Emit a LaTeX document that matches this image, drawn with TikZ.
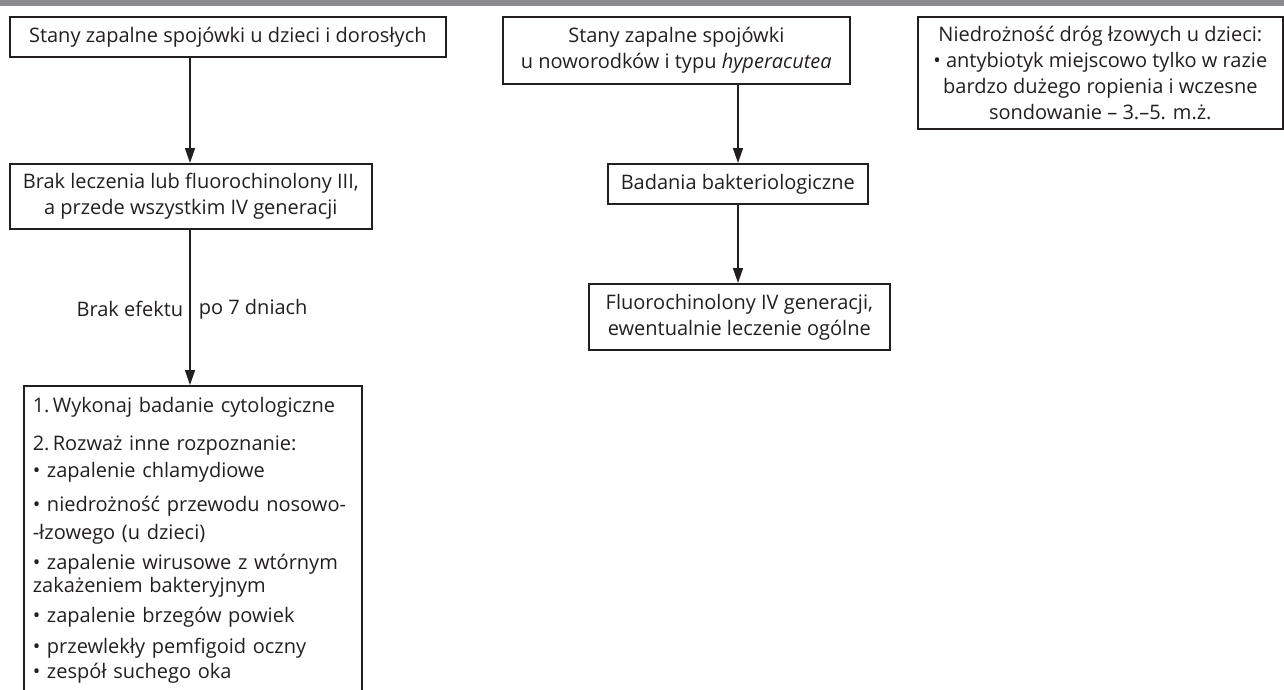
\documentclass[tikz,border=0pt]{standalone}
\usepackage{fontspec}
\setmainfont{Open Sans}
\usepackage{xcolor}
\usetikzlibrary{arrows.meta}

\definecolor{bandgray}{HTML}{8B8B8D}
\definecolor{inkgray}{HTML}{231F20}

\tikzset{
  box/.style={draw=inkgray, line width=1.6pt, inner sep=0pt, anchor=north west,
    align=center, text=inkgray, font=\fontsize{20}{26}\selectfont},
  arr/.style={draw=inkgray, line width=1.6pt, -{Triangle[length=15pt,width=10pt]}},
  lbl/.style={text=inkgray, font=\fontsize{20}{26}\selectfont}
}

\begin{document}
\begin{tikzpicture}[x=1pt,y=-1pt]
		\useasboundingbox (0,0) rectangle (1284,689);
		\clip (0,0) rectangle (1284,689);
		
		% Top band
		\fill[bandgray] (0,0) rectangle (1284,6);
		
		% Left column
		\node[box, minimum width=436pt, minimum height=40pt] (dorosli) at (9,16)
			{Stany zapalne spojówki u dzieci i dorosłych};
		\node[box, minimum width=362pt, minimum height=65pt] (leczenie) at (9,163)
			{Brak leczenia lub fluorochinolony III,\\a przede wszystkim IV generacji};
		\node[box, minimum width=337pt, align=left, text width=320pt, inner xsep=9pt,
			font=\fontsize{20}{22}\selectfont] (rozwaz) at (23,385)
			{\rule{0pt}{27pt}1.\,Wykonaj badanie cytologiczne\\[16pt]
			 2.\,Rozważ inne rozpoznanie:\\[5pt]
			 • zapalenie chlamydiowe\\[12pt]
			 • niedrożność przewodu nosowo-\\[6pt]
			 -łzowego (u dzieci)\\[8pt]
			 • zapalenie wirusowe z wtórnym\\[1pt]
			 zakażeniem bakteryjnym\\[8pt]
			 • zapalenie brzegów powiek\\[9pt]
			 • przewlekły pemfigoid oczny\\[3pt]
			 • zespół suchego oka\\
			 \rule{0pt}{60pt}};
		\coordinate (kolL) at (190,0);
		
		\draw[arr] (dorosli.south -| kolL) -- (leczenie.north -| kolL);
		\draw[arr] (leczenie.south -| kolL) --
			node[lbl, pos=0.51, left, inner xsep=6pt] (brak) {Brak efektu}
			node[lbl, pos=0.51, right, inner xsep=8pt] (dni) {po 7 dniach}
			(rozwaz.north -| kolL);
		
		% Middle column
		\node[box, minimum width=347pt, minimum height=67pt] (noworodki) at (502,16)
			{Stany zapalne spojówki\\u noworodków i typu \textit{hyperacutea}};
		\node[box, minimum width=260pt, minimum height=40pt] (badania) at (607,163)
			{Badania bakteriologiczne};
		\node[box, minimum width=301pt, minimum height=66pt] (fluoro) at (588,283)
			{Fluorochinolony IV generacji,\\ewentualnie leczenie ogólne};
		\coordinate (kolM) at (738,0);
		
		\draw[arr] (noworodki.south -| kolM) -- (badania.north -| kolM);
		\draw[arr] (badania.south -| kolM) -- (fluoro.north -| kolM);
		
		% Right column
		\node[box, minimum width=365pt, minimum height=112pt] (lzowe) at (917,16)
			{Niedrożność dróg łzowych u dzieci:\\
			 • antybiotyk miejscowo tylko w razie\\
			 bardzo dużego ropienia i wczesne\\
			 sondowanie – 3.–5. m.ż.};
	\end{tikzpicture}
\end{document}
